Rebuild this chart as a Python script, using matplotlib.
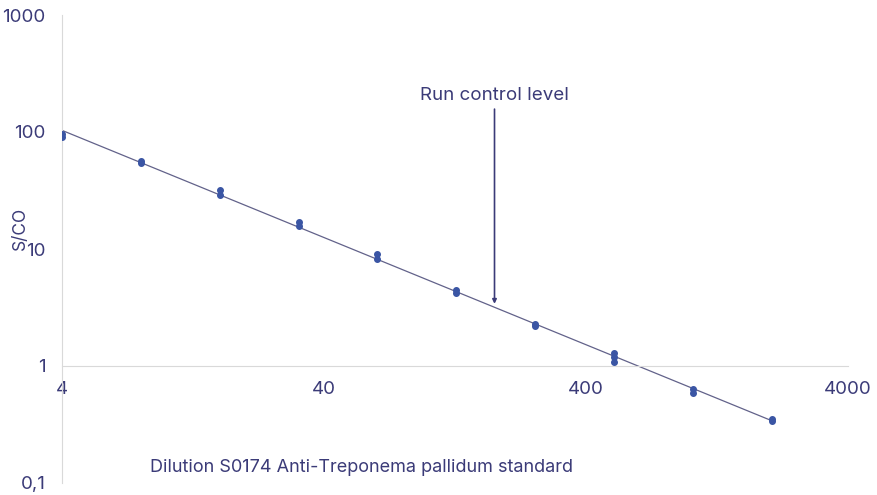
import numpy as np
import matplotlib
matplotlib.use("Agg")
import matplotlib.pyplot as plt
from matplotlib.ticker import FixedLocator, FixedFormatter, NullLocator

plt.rcParams['font.family'] = ['Inter', 'DejaVu Sans']

# dilution series (replicate S/CO readings per dilution)
dilutions = [4, 4, 8, 8, 16, 16, 32, 32, 64, 64, 128, 128, 256, 256,
             512, 512, 512, 1024, 1024, 2048, 2048]
sco = [97, 90, 56, 54, 32, 29, 17, 15.8, 9.0, 8.2, 4.5, 4.2, 2.3, 2.2,
       1.3, 1.2, 1.08, 0.64, 0.59, 0.35, 0.34]

x_ticks = [4, 40, 400, 4000]
x_labels = ['4', '40', '400', '4000']
y_ticks = [0.1, 1, 10, 100, 1000]
y_labels = ['0,1', '1', '10', '100', '1000']

run_control_x = 179
run_control_y = 3.4

text_col = '#3b3b78'
dot_col = '#3a55a4'
line_col = '#62628a'
axis_col = '#d9d9d9'

fig = plt.figure(figsize=(8.77, 4.95), dpi=100)
ax = fig.add_axes([62/877, 12/495, 786/877, 468/495])

x = np.array(dilutions, dtype=float)
y = np.array(sco, dtype=float)

# power trend line fitted on log-log
k, b = np.polyfit(np.log10(x), np.log10(y), 1)
xf = np.array([x.min(), x.max()])
ax.plot(xf, 10**(k*np.log10(xf) + b), color=line_col, lw=0.9, zorder=2)

ax.plot(x, y, 'o', color=dot_col, ms=4, zorder=3)

ax.set_xscale('log')
ax.set_yscale('log')
ax.set_xlim(4, 4000)
ax.set_ylim(0.1, 1000)

ax.spines['top'].set_visible(False)
ax.spines['right'].set_visible(False)
ax.spines['left'].set_color(axis_col)
ax.spines['bottom'].set_color(axis_col)
ax.spines['bottom'].set_position(('data', 1))

ax.xaxis.set_major_locator(FixedLocator(x_ticks))
ax.xaxis.set_major_formatter(FixedFormatter(x_labels))
ax.xaxis.set_minor_locator(NullLocator())
ax.yaxis.set_major_locator(FixedLocator(y_ticks))
ax.yaxis.set_major_formatter(FixedFormatter(y_labels))
ax.yaxis.set_minor_locator(NullLocator())
ax.tick_params(axis='x', length=0, pad=11, labelsize=13.5, labelcolor=text_col)
ax.tick_params(axis='y', length=0, pad=12, labelsize=13.5, labelcolor=text_col)

fig.text(20/877, 1 - 228/495, 'S/CO', rotation=90, ha='center', va='center',
         fontsize=12.5, color=text_col)
fig.text(150/877, 1 - 467/495, 'Dilution S0174 Anti-Treponema pallidum standard',
         ha='left', va='center', fontsize=13, color=text_col)

ax.annotate('Run control level', xy=(run_control_x, run_control_y),
            xytext=(run_control_x, 175), ha='center', va='bottom',
            fontsize=13.5, color=text_col,
            arrowprops=dict(arrowstyle='-|>', color=text_col, lw=1.2,
                            mutation_scale=6, shrinkA=2, shrinkB=0))

fig.savefig('out.png', dpi=100)
